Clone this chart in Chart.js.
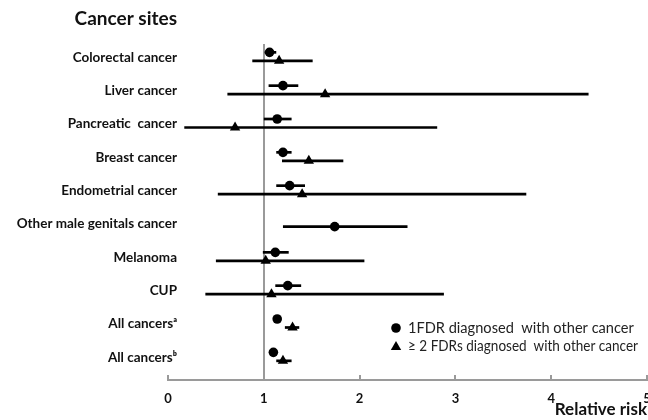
<!DOCTYPE html>
<html><head><meta charset="utf-8">
<script src="https://cdn.jsdelivr.net/npm/chart.js@4/dist/chart.umd.min.js"></script>
<style>html,body{margin:0;padding:0;background:#fff}#wrap{width:648px;height:420px}</style>
</head><body><div id="wrap"><canvas id="c" width="648" height="420"></canvas></div>
<script>
// ---- data ----
const categories = ['Colorectal cancer','Liver cancer','Pancreatic  cancer','Breast cancer','Endometrial cancer','Other male genitals cancer','Melanoma','CUP','All cancers\u1d43','All cancers\u1d47'];
const rr1 = [1.06, 1.20, 1.14, 1.20, 1.27, 1.74, 1.12, 1.25, 1.14, 1.10];
const lo1 = [1.01, 1.05, 1.00, 1.13, 1.13, 1.20, 0.99, 1.12, 1.10, 1.06];
const hi1 = [1.13, 1.36, 1.29, 1.29, 1.43, 2.50, 1.26, 1.39, 1.17, 1.14];
const rr2 = [1.16, 1.64, 0.70, 1.47, 1.40, null, 1.02, 1.08, 1.30, 1.20];
const lo2 = [0.88, 0.62, 0.17, 1.19, 0.52, null, 0.50, 0.39, 1.22, 1.13];
const hi2 = [1.51, 4.39, 2.81, 1.83, 3.74, null, 2.05, 2.88, 1.37, 1.29];
const xTicks = [0, 1, 2, 3, 4, 5];
const seriesNames = ['1FDR diagnosed  with other cancer', '\u2265 2 FDRs diagnosed  with other cancer'];
const refValue = 1;
const titleText = 'Cancer sites';
const xTitle = 'Relative risk';

// ---- layout helpers ----
const FONT = 'Lato, "Open Sans", "DejaVu Sans", sans-serif';
const yMin = -0.40, yMax = 9.68;
const pos1 = i => i + (rr2[i] == null ? 0.08 : -0.15);
const pos2 = i => i + 0.105;

const pts1 = rr1.map((v, i) => ({x: v, y: pos1(i)}));
const pts2 = [];
rr2.forEach((v, i) => { if (v != null) pts2.push({x: v, y: pos2(i)}); });

const decor = {
  id: 'decor',
  beforeDatasetsDraw(chart) {
    const {ctx, chartArea: a, scales: {x, y}} = chart;
    ctx.save();
    const rx = Math.round(x.getPixelForValue(refValue));
    ctx.strokeStyle = '#9a9a9a'; ctx.lineWidth = 2;
    ctx.beginPath(); ctx.moveTo(rx, a.top); ctx.lineTo(rx, a.bottom); ctx.stroke();
    ctx.strokeStyle = '#000'; ctx.lineWidth = 2.7;
    const bar = (lo, hi, yy) => {
      const py = y.getPixelForValue(yy);
      ctx.beginPath(); ctx.moveTo(x.getPixelForValue(lo), py); ctx.lineTo(x.getPixelForValue(hi), py); ctx.stroke();
    };
    categories.forEach((c, i) => {
      bar(lo1[i], hi1[i], pos1(i));
      if (rr2[i] != null) bar(lo2[i], hi2[i], pos2(i));
    });
    ctx.restore();
  },
  afterDraw(chart) {
    const {ctx} = chart;
    ctx.save();
    ctx.fillStyle = '#111';
    ctx.font = 'bold 19px ' + FONT;
    ctx.textAlign = 'right'; ctx.textBaseline = 'middle';
    ctx.fillText(titleText, 177, 19);
    ctx.font = '14.6px ' + FONT;
    ctx.textAlign = 'left';
    ctx.fillStyle = '#000';
    ctx.beginPath(); ctx.arc(396, 328, 4.8, 0, Math.PI * 2); ctx.fill();
    const r = 6, tx = 396, ty = 347;
    ctx.beginPath();
    ctx.moveTo(tx, ty - r);
    ctx.lineTo(tx + r * Math.sin(2 * Math.PI / 3), ty + r * 0.5);
    ctx.lineTo(tx - r * Math.sin(2 * Math.PI / 3), ty + r * 0.5);
    ctx.closePath(); ctx.fill();
    ctx.fillStyle = '#222';
    ctx.fillText(chart.data.datasets[0].label, 408, 328, 228);
    ctx.fillText(chart.data.datasets[1].label, 408, 346, 230);
    ctx.restore();
  }
};

new Chart(document.getElementById('c'), {
  type: 'scatter',
  data: {
    datasets: [
      {label: seriesNames[0], data: pts1, pointStyle: 'circle', pointRadius: 4.8, backgroundColor: '#000', borderColor: '#000', borderWidth: 0},
      {label: seriesNames[1], data: pts2, pointStyle: 'triangle', pointRadius: 6, backgroundColor: '#000', borderColor: '#000', borderWidth: 0}
    ]
  },
  options: {
    responsive: false, animation: false, devicePixelRatio: 1,
    layout: {autoPadding: false, padding: {top: 44, right: 1, left: 0, bottom: 0}},
    plugins: {legend: {display: false}, tooltip: {enabled: false}},
    scales: {
      x: {
        type: 'linear', position: 'bottom', min: xTicks[0], max: xTicks[xTicks.length - 1],
        afterBuildTicks(s) { s.ticks = xTicks.map(v => ({value: v})); },
        ticks: {color: '#111', font: {family: FONT, weight: 'bold', size: 13}, padding: 16, maxRotation: 0, autoSkip: false},
        grid: {drawOnChartArea: false, color: '#9a9a9a', lineWidth: 2, tickLength: -5},
        border: {color: '#9a9a9a', width: 2},
        title: {display: true, text: xTitle, align: 'end', color: '#111', font: {family: FONT, weight: 'bold', size: 17}, padding: {top: 0, bottom: 0}},
        afterFit(s) { s.height = 40; s.paddingRight = 0; s.paddingLeft = 0; }
      },
      y: {
        type: 'linear', reverse: true, min: yMin, max: yMax,
        afterBuildTicks(s) { s.ticks = categories.map((_, i) => ({value: i})); },
        ticks: {autoSkip: false, callback: v => categories[v], color: '#111', font: {family: FONT, weight: 'bold', size: 13.5}, padding: -9},
        grid: {display: false, drawTicks: false},
        border: {display: false},
        afterFit(s) { s.width = 168; s._computeLabelArea = () => undefined; }
      }
    }
  },
  plugins: [decor]
});
</script></body></html>
